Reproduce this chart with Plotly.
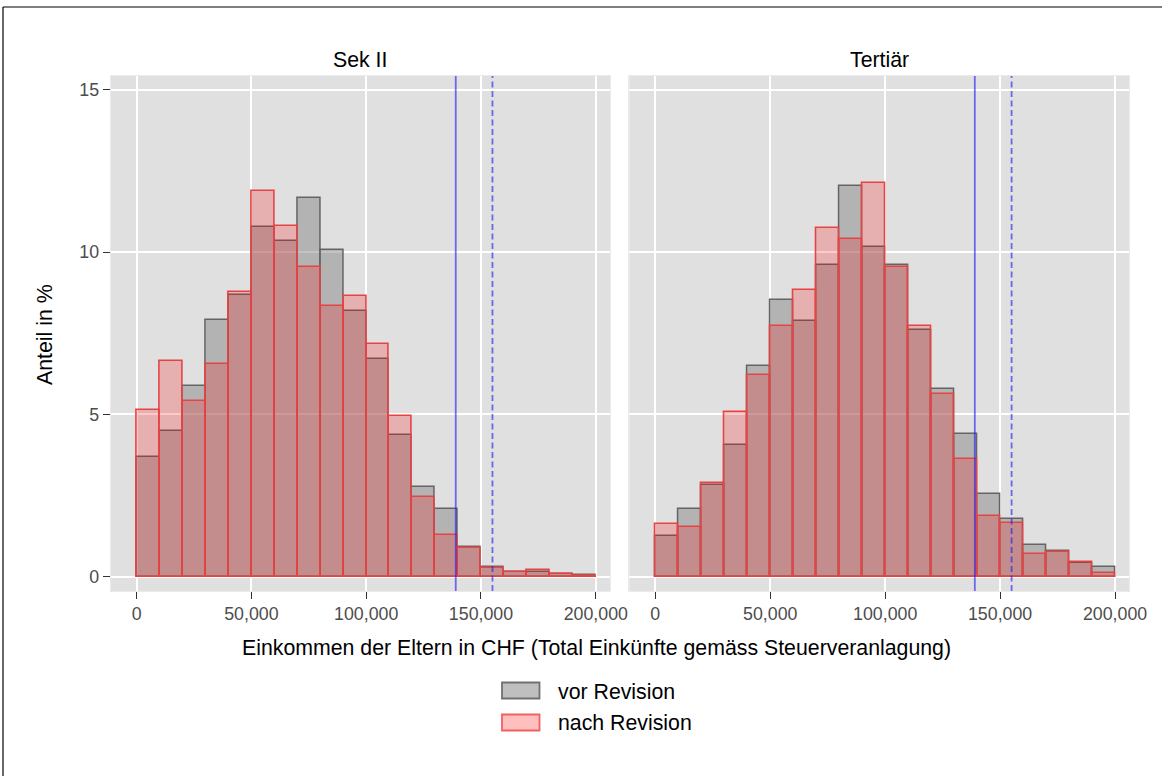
import plotly.graph_objects as go

# ===== DATEN =====
# Klassenmitten der Einkommensklassen (Breite 10'000 CHF)
einkommen_klassen = [5000, 15000, 25000, 35000, 45000, 55000, 65000, 75000, 85000, 95000,
                     105000, 115000, 125000, 135000, 145000, 155000, 165000, 175000, 185000, 195000]
klassen_breite = 10000

# Anteil in % pro Klasse
sek2_vor = [3.68, 4.48, 5.87, 7.91, 8.67, 10.78, 10.35, 11.68, 10.06, 8.20,
            6.72, 4.38, 2.77, 2.09, 0.92, 0.31, 0.15, 0.16, 0.07, 0.06]
sek2_nach = [5.15, 6.65, 5.43, 6.55, 8.77, 11.90, 10.81, 9.55, 8.34, 8.65,
             7.17, 4.95, 2.46, 1.29, 0.88, 0.27, 0.14, 0.22, 0.09, 0.03]
tert_vor = [1.26, 2.09, 2.82, 4.06, 6.49, 8.53, 7.87, 9.62, 12.04, 10.15,
            9.62, 7.61, 5.78, 4.39, 2.55, 1.78, 0.98, 0.80, 0.43, 0.29]
tert_nach = [1.62, 1.53, 2.88, 5.09, 6.22, 7.72, 8.84, 10.74, 10.40, 12.12,
             9.53, 7.72, 5.62, 3.62, 1.87, 1.67, 0.70, 0.75, 0.45, 0.12]

# Einkommensgrenzen (vertikale Linien): durchgezogen / gestrichelt
grenze_solid = 139000
grenze_dash = 155000

facetten = ["Sek II", "Tertiär"]
serien = ["vor Revision", "nach Revision"]
x_ticks = [0, 50000, 100000, 150000, 200000]
y_ticks = [0, 5, 10, 15]

# ===== FARBEN =====
COLORS = {
    'panel': '#e0e0e0',
    'grid': '#ffffff',
    'tick_text': '#4d4d4d',
    'tick': '#333333',
    'text': '#000000',
    'vor_fill': 'rgba(127,127,127,0.47)',
    'vor_line': '#646464',
    'nach_fill': 'rgba(255,0,0,0.21)',
    'nach_line': '#e64444',
    'vline': 'rgba(30,30,240,0.62)',
}
FONT = "Arial, Liberation Sans, sans-serif"
TXT = 21.3
TICK = 17.8

W, H = 1162, 776


def px(x):
    return x / W


def py(y):
    return 1 - y / H


fig = go.Figure()

panel_daten = [(sek2_vor, sek2_nach, 'x', 'y'), (tert_vor, tert_nach, 'x2', 'y2')]
for vor, nach, xa, ya in panel_daten:
    fig.add_trace(go.Bar(
        x=einkommen_klassen, y=vor, width=klassen_breite, name=serien[0],
        marker=dict(color=COLORS['vor_fill'], line=dict(color=COLORS['vor_line'], width=1.5)),
        xaxis=xa, yaxis=ya, showlegend=False,
    ))
    fig.add_trace(go.Bar(
        x=einkommen_klassen, y=nach, width=klassen_breite, name=serien[1],
        marker=dict(color=COLORS['nach_fill'], line=dict(color=COLORS['nach_line'], width=1.6)),
        xaxis=xa, yaxis=ya, showlegend=False,
    ))
    # Einkommensgrenzen als Linien ueber die ganze Panelhoehe
    fig.add_trace(go.Scatter(
        x=[grenze_solid, grenze_solid], y=[-0.44, 15.43], mode='lines',
        line=dict(color=COLORS['vline'], width=1.8),
        xaxis=xa, yaxis=ya, showlegend=False, hoverinfo='skip',
    ))
    fig.add_trace(go.Scatter(
        x=[grenze_dash, grenze_dash], y=[-0.44, 15.43], mode='lines',
        line=dict(color=COLORS['vline'], width=1.8, dash='6px,3.5px'),
        xaxis=xa, yaxis=ya, showlegend=False, hoverinfo='skip',
    ))

# ===== ACHSEN =====
x_common = dict(
    range=[-11300, 206200], tickvals=x_ticks, tickformat=',d',
    showgrid=True, gridcolor=COLORS['grid'], gridwidth=1.7, zeroline=False,
    ticks='outside', ticklen=7, tickwidth=1, tickcolor=COLORS['tick'],
    tickfont=dict(family=FONT, size=TICK, color=COLORS['tick_text']),
    showline=True, linecolor='#ebebeb', linewidth=1, mirror=True,
    automargin=False,
)
y_common = dict(
    range=[-0.44, 15.43], tickvals=y_ticks,
    showgrid=True, gridcolor=COLORS['grid'], gridwidth=1.7, zeroline=False,
    showline=True, linecolor='#ebebeb', linewidth=1, mirror=True,
    automargin=False,
)

fig.update_layout(
    xaxis=dict(x_common, domain=[px(110.7), px(610)], anchor='y'),
    xaxis2=dict(x_common, domain=[px(629.3), px(1129.3)], anchor='y2'),
    yaxis=dict(y_common, domain=[py(591), py(76)], anchor='x',
               ticks='outside', ticklen=7, tickwidth=1, tickcolor=COLORS['tick'],
               tickfont=dict(family=FONT, size=TICK, color=COLORS['tick_text'])),
    yaxis2=dict(y_common, domain=[py(591), py(76)], anchor='x2', matches='y',
                showticklabels=False, ticks=''),
    barmode='overlay',
    bargap=0,
    plot_bgcolor=COLORS['panel'],
    paper_bgcolor='white',
    width=W, height=H,
    margin=dict(l=0, r=0, t=0, b=0),
    showlegend=False,
    font=dict(family=FONT, color=COLORS['text']),
)

# ===== TITEL / ACHSENBESCHRIFTUNG =====
annotations = [
    dict(text=facetten[0], x=px(360.3), y=py(60)),
    dict(text=facetten[1], x=px(879.3), y=py(60)),
    dict(text="Einkommen der Eltern in CHF (Total Einkünfte gemäss Steuerveranlagung)",
         x=px(596.5), y=py(648)),
    dict(text="Anteil in %", x=px(45), y=py(335), textangle=-90),
    dict(text=serien[0], x=px(556), y=py(691.5), xanchor='left'),
    dict(text=serien[1], x=px(556), y=py(723), xanchor='left'),
]
for a in annotations:
    a.setdefault('xanchor', 'center')
    fig.add_annotation(xref='paper', yref='paper', yanchor='middle', showarrow=False,
                       font=dict(family=FONT, size=TXT, color=COLORS['text']), **a)

# ===== LEGENDE (manuell) =====
fig.add_shape(type='rect', xref='paper', yref='paper',
              x0=px(502), x1=px(539.5), y0=py(698.5), y1=py(682.5),
              fillcolor='rgba(127,127,127,0.5)', line=dict(color='#707070', width=1.8))
fig.add_shape(type='rect', xref='paper', yref='paper',
              x0=px(502), x1=px(539.5), y0=py(730.5), y1=py(714.5),
              fillcolor='rgba(255,0,0,0.25)', line=dict(color='#f26060', width=1.8))

# ===== RAHMEN =====
fig.add_shape(type='line', xref='paper', yref='paper', x0=px(3), x1=px(1170), y0=py(7), y1=py(7),
              line=dict(color='black', width=1.2))
fig.add_shape(type='line', xref='paper', yref='paper', x0=px(3), x1=px(3), y0=py(7), y1=py(790),
              line=dict(color='black', width=1.2))

# Seitenrand des Browsers entfernen, damit die Grafik bei (0,0) beginnt
fig.write_html("out.html", config={'displayModeBar': False},
               post_script="document.body.style.margin='0';")
